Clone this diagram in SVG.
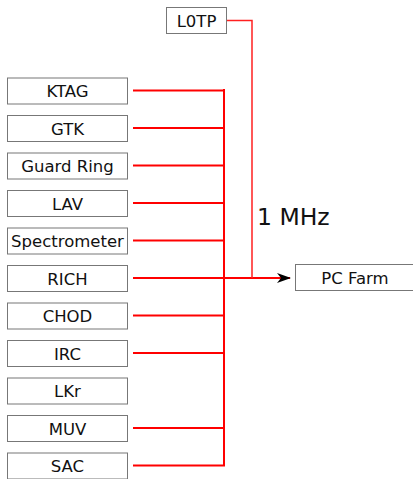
<svg xmlns="http://www.w3.org/2000/svg" width="413" height="479" viewBox="0 0 413 479">
<style>
.box{fill:#fff;stroke:#777;stroke-width:1}
.lbl{font-family:"DejaVu Sans",sans-serif;font-size:16.5px;fill:#111;text-anchor:middle}
.w{stroke:#ff0000;stroke-width:2;fill:none}
.t{stroke:#ff2020;stroke-width:1.5;fill:none}
</style>
<defs>
<marker id="arr" viewBox="0 0 14 10" refX="13" refY="5" markerWidth="14" markerHeight="10" markerUnits="userSpaceOnUse" orient="auto">
<path d="M0,0 L14,5 L0,10 L4,5 Z" fill="#000"/>
</marker>
</defs>
<rect width="413" height="479" fill="#fff"/>
<g id="connectors">
<path class="w" d="M133,90.5H224.5M133,128H224.5M133,165.5H224.5M133,203H224.5M133,240.5H224.5M133,315.5H224.5M133,353H224.5M133,428H224.5M133,465.5H224.5M224,89V466.5"/>
<path class="w" d="M133,278H290" marker-end="url(#arr)"/>
<path class="t" d="M226,20.5H252V278"/>
<text x="257" y="225" style="font-family:'DejaVu Sans',sans-serif;font-size:23.5px;fill:#111">1 MHz</text>
</g>
<g id="L0TP"><rect class="box" x="166.5" y="7.5" width="60" height="26"/><text class="lbl" x="196.5" y="26.5">L0TP</text></g>
<g id="KTAG"><rect class="box" x="7.5" y="78" width="120" height="26"/><text class="lbl" x="67.5" y="97">KTAG</text></g>
<g id="GTK"><rect class="box" x="7.5" y="115.5" width="120" height="26"/><text class="lbl" x="67.5" y="134.5">GTK</text></g>
<g id="GuardRing"><rect class="box" x="7.5" y="153" width="120" height="26"/><text class="lbl" x="67.5" y="172">Guard Ring</text></g>
<g id="LAV"><rect class="box" x="7.5" y="190.5" width="120" height="26"/><text class="lbl" x="67.5" y="209.5">LAV</text></g>
<g id="Spectrometer"><rect class="box" x="7.5" y="228" width="120" height="26"/><text class="lbl" x="67.5" y="247">Spectrometer</text></g>
<g id="RICH"><rect class="box" x="7.5" y="265.5" width="120" height="26"/><text class="lbl" x="67.5" y="284.5">RICH</text></g>
<g id="CHOD"><rect class="box" x="7.5" y="303" width="120" height="26"/><text class="lbl" x="67.5" y="322">CHOD</text></g>
<g id="IRC"><rect class="box" x="7.5" y="340.5" width="120" height="26"/><text class="lbl" x="67.5" y="359.5">IRC</text></g>
<g id="LKr"><rect class="box" x="7.5" y="378" width="120" height="26"/><text class="lbl" x="67.5" y="397">LKr</text></g>
<g id="MUV"><rect class="box" x="7.5" y="415.5" width="120" height="26"/><text class="lbl" x="67.5" y="434.5">MUV</text></g>
<g id="SAC"><rect class="box" x="7.5" y="453" width="120" height="26"/><text class="lbl" x="67.5" y="472">SAC</text></g>
<g id="PCFarm"><rect class="box" x="295.5" y="264.5" width="120" height="26"/><text class="lbl" x="355" y="283.5">PC Farm</text></g>
</svg>
